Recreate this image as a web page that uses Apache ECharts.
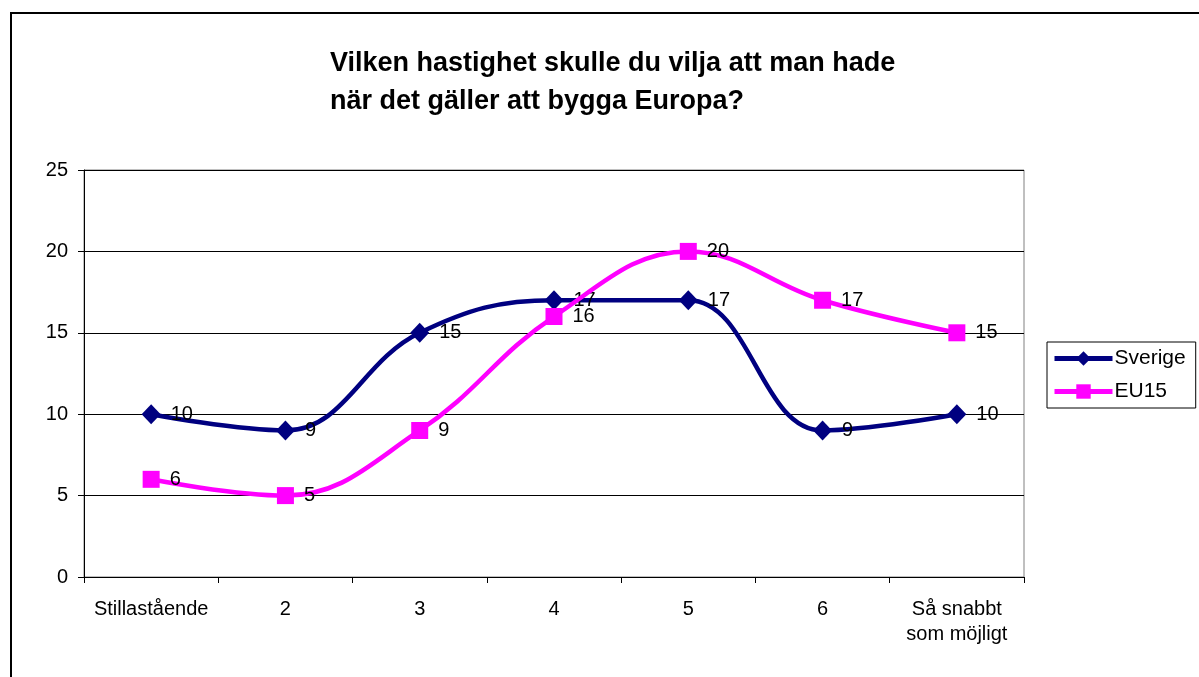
<!DOCTYPE html>
<html>
<head>
<meta charset="utf-8">
<script src="https://cdn.jsdelivr.net/npm/echarts@6/dist/echarts.min.js"></script>
<style>
  html, body { margin: 0; padding: 0; background: #fff; }
  #chart { width: 1199px; height: 677px; }
</style>
</head>
<body>
<div id="chart"></div>
<script>
// values
const categories = ['Stillastående', '2', '3', '4', '5', '6', 'Så snabbt\nsom möjligt']
const sverige = [10, 9, 15, 17, 17, 9, 10]
const eu15    = [6, 5, 9, 16, 20, 17, 15]

const FONT = 'Arial, "Liberation Sans", sans-serif'
const COLOR_SE = '#000080'   // navy
const COLOR_EU = '#ff00ff'   // magenta

const chart = echarts.init(document.getElementById('chart'))

const labelStyle = {
  show: true,
  position: 'right',
  distance: 10,
  color: '#000',
  fontSize: 20,
  fontFamily: FONT,
}

chart.setOption({
  backgroundColor: '#fff',
  animation: false,
  title: {
    text: 'Vilken hastighet skulle du vilja att man hade\nnär det gäller att bygga Europa?',
    left: 330,
    top: 45,
    padding: 0,
    textStyle: {
      fontFamily: FONT,
      fontSize: 27,
      fontWeight: 'bold',
      color: '#000',
      lineHeight: 38,
    },
  },
  legend: {
    orient: 'vertical',
    left: 1047,
    top: 342,
    padding: [6, 10, 6, 5],
    itemGap: 12,
    itemWidth: 58,
    itemHeight: 18,
    borderColor: '#000',
    borderWidth: 1,
    textStyle: { fontFamily: FONT, fontSize: 21, color: '#000', padding: [0, 0, 0, -3] },
    data: [
      { name: 'Sverige', lineStyle: { width: 5 } },
      { name: 'EU15', lineStyle: { width: 5 } },
    ],
  },
  graphic: [
    {
      type: 'rect',
      shape: { x: 11, y: 13, width: 1400, height: 900 },
      style: { fill: 'none', stroke: '#000', lineWidth: 2 },
      silent: true,
    },
  ],
  grid: {
    left: 84, top: 170, right: 175, bottom: 100,
    show: true, borderColor: '#808080', borderWidth: 1,
  },
  xAxis: {
    type: 'category',
    data: categories,
    boundaryGap: true,
    axisLine: { lineStyle: { color: '#000', width: 1 } },
    axisTick: { show: true, length: 6, lineStyle: { color: '#000' } },
    axisLabel: {
      color: '#000', fontFamily: FONT, fontSize: 20,
      margin: 20, lineHeight: 25, interval: 0,
    },
  },
  yAxis: {
    type: 'value',
    min: 0, max: 25, interval: 5,
    axisLine: { show: true, lineStyle: { color: '#000', width: 1 } },
    axisTick: { show: true, length: 6, lineStyle: { color: '#000' } },
    splitLine: { lineStyle: { color: '#000', width: 1 } },
    axisLabel: { color: '#000', fontFamily: FONT, fontSize: 20, margin: 16 },
  },
  series: [
    {
      name: 'Sverige',
      type: 'line',
      data: sverige,
      smooth: 0.4,
      symbol: 'diamond',
      symbolSize: [19, 20],
      lineStyle: { color: COLOR_SE, width: 4.5 },
      itemStyle: { color: COLOR_SE },
      label: labelStyle,
      z: 3,
    },
    {
      name: 'EU15',
      type: 'line',
      data: eu15,
      smooth: 0.4,
      symbol: 'rect',
      symbolSize: 17,
      lineStyle: { color: COLOR_EU, width: 4.5 },
      itemStyle: { color: COLOR_EU },
      label: labelStyle,
      z: 4,
    },
  ],
})
</script>
</body>
</html>
